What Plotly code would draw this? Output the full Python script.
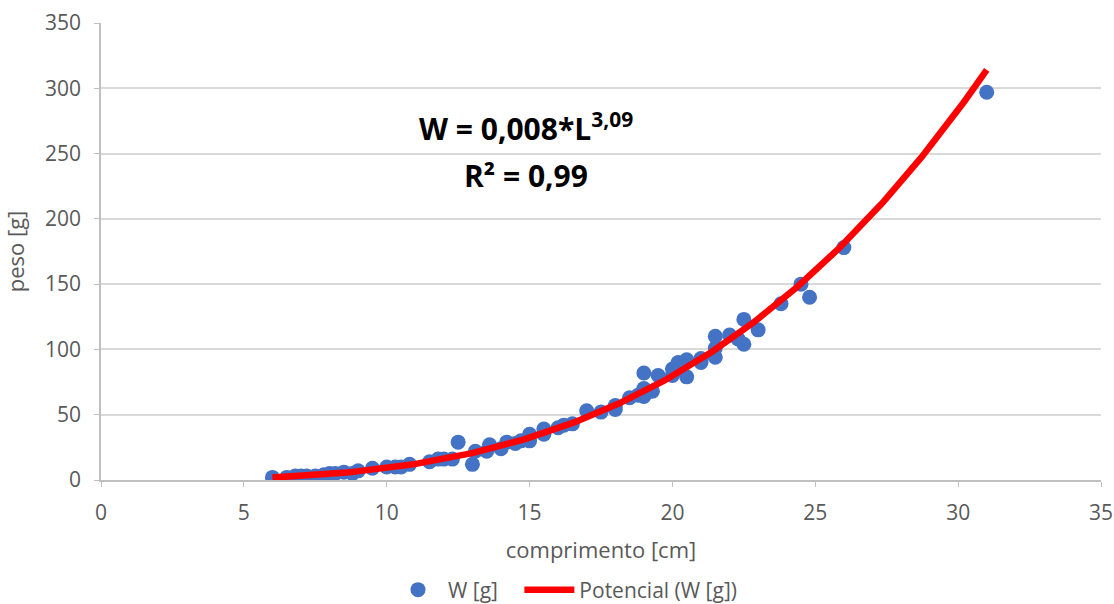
import numpy as np
import plotly.graph_objects as go

comprimento = [6, 6.5, 6.8, 7, 7.2, 7.5, 7.8, 8, 8.2, 8.5, 8.8, 9, 9.5, 10, 10.3, 10.5, 10.8,
               11.5, 11.8, 12, 12.3, 12.5, 13, 13.1, 13.5, 13.6, 14, 14.2, 14.5, 14.7, 15, 15,
               15.5, 15.5, 16, 16.2, 16.5, 17, 17.5, 18, 18, 18.5, 18.8, 19, 19, 19, 19.3, 19.5,
               20, 20, 20.2, 20.5, 20.5, 21, 21, 21.5, 21.5, 21.5, 22, 22.3, 22.5, 22.5, 23,
               23.8, 24.5, 24.8, 26, 31]
peso = [2, 2, 3, 3, 3, 3, 4, 5, 5, 6, 5, 7, 9, 10, 10, 10, 12,
        14, 16, 16, 16, 29, 12, 22, 22, 27, 24, 29, 28, 30, 30, 35,
        35, 39, 40, 42, 43, 53, 52, 54, 57, 63, 65, 64, 70, 82, 68, 80,
        80, 85, 90, 79, 92, 90, 93, 94, 101, 110, 111, 108, 104, 123, 115,
        135, 150, 140, 178, 297]

series_names = ["W [g]", "Potencial (W [g])"]
eq_text = "W = 0,008*L<sup>3,09</sup>"
r2_text = "R² = 0,99"

# power trendline fitted from data (log-log regression, as Excel does)
lx = np.log(comprimento)
ly = np.log(peso)
b, ln_a = np.polyfit(lx, ly, 1)
xf = np.linspace(min(comprimento), max(comprimento), 300)
yf = np.exp(ln_a) * xf ** b

font = "Open Sans, Liberation Sans, sans-serif"
grey = "#595959"
fig = go.Figure()
fig.add_trace(go.Scatter(x=comprimento, y=peso, mode="markers",
                         name=series_names[0] + "\u00a0" * 3,
                         marker=dict(color="#4472C4", size=15)))
fig.add_trace(go.Scatter(x=xf, y=yf, mode="lines", name=series_names[1],
                         line=dict(color="#FF0000", width=6.5)))

fig.add_annotation(x=14.86, y=270, text=eq_text, showarrow=False,
                   font=dict(size=30, color="black", family=font, weight="bold"))
fig.add_annotation(x=14.86, y=233, text=r2_text, showarrow=False,
                   font=dict(size=30, color="black", family=font, weight="bold"))

fig.update_layout(
    width=1114, height=604,
    margin=dict(l=101, r=13, t=23, b=124, autoexpand=False),
    paper_bgcolor="white", plot_bgcolor="white",
    font=dict(family=font, size=21, color=grey),
    showlegend=True,
    legend=dict(orientation="h", x=0.287, xanchor="left", y=-110 / 457, yanchor="middle",
                font=dict(size=21, color=grey), itemwidth=50),
    xaxis=dict(range=[0, 35], dtick=5, showgrid=False, zeroline=False, automargin=False,
               showline=True, linecolor="#BFBFBF", linewidth=1.5,
               ticks="outside", tickcolor="#BFBFBF", ticklen=5, ticklabelstandoff=8,
               title=dict(text="comprimento [cm]", font=dict(size=22, color=grey), standoff=18),
               tickfont=dict(size=21, color=grey)),
    yaxis=dict(range=[0, 350], dtick=50, showgrid=True, gridcolor="#D9D9D9", gridwidth=1.5,
               zeroline=False, showline=True, linecolor="#BFBFBF", linewidth=1.5, automargin=False,
               ticks="outside", tickcolor="#BFBFBF", ticklen=5, ticklabelstandoff=9,
               title=dict(text="peso [g]", font=dict(size=22, color=grey), standoff=17),
               tickfont=dict(size=21, color=grey)),
)

fig.write_html("out.html", config={"displayModeBar": False},
               post_script="document.body.style.margin='0';"
                           "document.documentElement.style.overflow='hidden';")
